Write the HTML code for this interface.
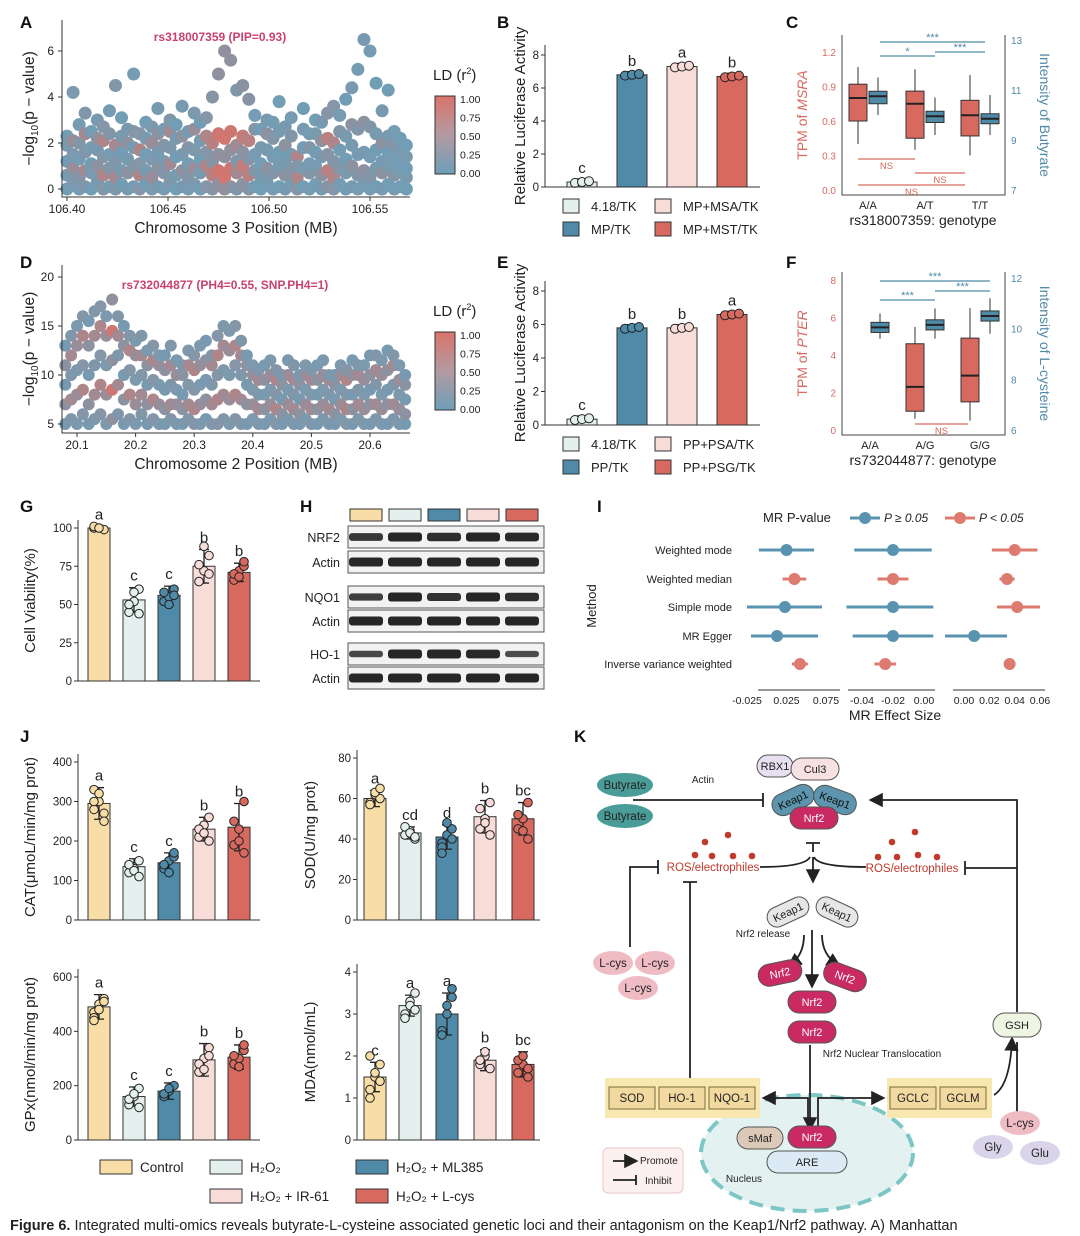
<!DOCTYPE html>
<html><head><meta charset="utf-8"><style>
body{margin:0;background:#fff}
svg{display:block;font-family:"Liberation Sans",Arial,sans-serif}
</style></head><body>
<svg id="fig" width="1080" height="1236" viewBox="0 0 1080 1236" xmlns="http://www.w3.org/2000/svg">
<defs>
<linearGradient id="ldg" x1="0" y1="1" x2="0" y2="0"><stop offset="0" stop-color="#6d9fb8"/><stop offset="0.5" stop-color="#b39aa3"/><stop offset="1" stop-color="#d9736a"/></linearGradient>
<marker id="arr" markerWidth="8" markerHeight="8" refX="6" refY="4" orient="auto"><path d="M0,0 L8,4 L0,8 z" fill="#222"/></marker>
</defs>
<g font-weight="bold" font-size="17" fill="#111">
<text x="20" y="28">A</text>
<text x="497" y="28">B</text>
<text x="786" y="28">C</text>
<text x="20" y="268">D</text>
<text x="497" y="268">E</text>
<text x="786" y="268">F</text>
<text x="20" y="512">G</text>
<text x="300" y="512">H</text>
<text x="597" y="512">I</text>
<text x="20" y="742">J</text>
<text x="574" y="742">K</text>
</g>
<text x="10" y="1230" font-size="14.5" fill="#222"><tspan font-weight="bold">Figure 6.</tspan> Integrated multi-omics reveals butyrate-L-cysteine associated genetic loci and their antagonism on the Keap1/Nrf2 pathway. A) Manhattan</text>
<g id="root"></g>
</svg>
<script>
// ---------- DATA ----------
const valsA = [
[0,0.6,1.2,1.9,2.3],[0.2,0.9,1.5,2.1,4.2],[0,0.5,1.3,2.0,2.8],[0.1,0.8,1.6,2.4,3.3],[0,0.7,1.1,1.8,2.5],
[0.3,1.0,1.7,2.2,3.0],[0,0.6,1.4,2.1,2.7],[0.1,0.9,1.5,2.4,3.4],[0,0.5,1.2,1.9,4.5],[0.2,0.8,1.6,2.3,3.1],
[0,0.7,1.3,2.0,2.6],[0.1,1.0,1.8,2.5,5.0],[0,0.6,1.1,1.7,2.4],[0.2,0.8,1.5,2.2,2.9],[0,0.5,1.3,2.0,2.7],
[0.1,0.9,1.6,2.4,3.5],[0,0.7,1.2,1.9,2.6],[0.3,1.1,1.8,2.5,3.0],[0,0.6,1.4,2.2,2.8],[0.1,0.8,1.5,2.3,3.6],
[0,0.5,1.1,1.8,2.5],[0.2,0.9,1.7,2.6,3.3],[0,0.7,1.3,2.1,2.9],[0.1,1.0,1.6,2.3,3.1],[0,0.6,1.2,2.0,4.0],
[0.2,0.8,1.5,2.4,5.0],[0,0.5,1.4,2.2,6.0],[0.1,0.9,1.7,2.5,5.6],[0,0.7,1.2,1.9,4.3],[0.2,1.0,1.6,2.3,4.5],
[0,0.6,1.3,2.1,3.9],[0.1,0.8,1.5,2.6,3.2],[0,0.5,1.1,1.8,2.6],[0.3,0.9,1.7,2.4,3.0],[0,0.7,1.4,2.2,2.9],
[0.1,1.0,1.6,2.5,3.8],[0,0.6,1.2,1.9,2.7],[0.2,0.8,1.5,2.3,3.1],[0,0.5,1.0,1.4,1.0],[0.1,0.9,1.8,2.6,3.5],
[0,0.7,1.1,1.8,2.4],[0.2,1.0,1.6,2.4,3.0],[0,0.6,1.4,2.1,2.9],[0.1,0.8,1.5,2.2,3.3],[0,0.5,1.2,2.0,3.6],
[0.2,0.9,1.7,2.5,3.2],[0,0.7,1.3,2.3,3.9],[0.1,1.0,1.9,2.8,4.4],[0,0.6,1.5,2.6,5.2],[0.2,0.8,1.6,2.9,6.5],
[0,0.5,1.4,2.7,6.0],[0.1,0.9,1.7,2.4,4.6],[0,0.7,1.2,2.0,3.4],[0.2,1.0,1.6,2.3,4.3],[0,0.6,1.3,1.9,2.5],
[0.1,0.8,1.1,1.7,2.2],[0,0.5,0.9,1.4,1.9]];
const ldA = [.1,.4,.2,.5,.1,.3,.6,.2,.5,.1,.3,.2,.6,.1,.4,.3,.2,.5,.1,.3,.2,.4,.1,.6,.7,.9,.95,.9,.5,.8,.7,.2,.1,.3,.2,.1,.3,.2,.6,.1,.2,.1,.3,.7,.6,.2,.1,.3,.2,.3,.2,.1,.3,.1,.2,.1,.1];
const valsD = [
[5,7,9,11,13],[5.5,7.5,10,12,14],[5,8,10.5,13,15],[6,8.5,11,14,16],[5,7,10,13,15.5],
[5.5,8,11,14,16.5],[6,9,12,15,17],[5,8,11,14,16],[5.5,8.5,11.5,14.5,17.7],[6,9,12,14,16],
[5,7.5,10,13,15],[5.5,8,10.5,12.5,14],[5,7,9.5,12,13.5],[6,8,10,12,14],[5,7,9,11,12.5],
[5.5,7.5,9.5,11.5,13],[5,7,9,11,12],[5,6.5,8.5,10.5,12],[5.5,7,9,11,13],[5,7,8.5,10,11.5],
[5,6.5,8,10,11],[5.5,7,9,11,12.5],[5,6.5,8.5,10.5,12],[5,7,9,11,13],[5.5,7.5,9.5,11.5,13.5],
[5,7,9,11,12],[5,7.5,10,12,14],[5.5,8,10.5,13,15],[5,7.5,10,12.5,14.5],[5.5,8,11,13,15],
[5,7.5,10,12,13.5],[5,7,9,11,12],[5.5,7,8.5,10,11],[5,6.5,8,9.5,10.5],[5,6.5,8,9.5,11],
[5.5,7,8.5,10,11.5],[5,6.5,8,9.5,10.5],[5,6,7.5,9,10],[5.5,7,8.5,10,11.5],[5,6.5,8,9.5,11],
[5,6,7.5,9,10],[5.5,7,8.5,10,11],[5,6.5,8,9.5,10.5],[5,6.5,8,9.5,11],[5.5,7,8.5,10,11.5],
[5,6.5,8,9.5,10],[5,6,7.5,9,10],[5.5,7,8.5,10,11],[5,6.5,8,9.5,10.5],[5,6.5,8,10,11.5],
[5.5,7,8.5,10,11],[5,6.5,8,9.5,11],[5,7,8.5,10,12],[5.5,7,9,10.5,12],[5,6.5,8,10,11.5],
[5,7,8.5,10.5,12.5],[5.5,7,9,11,12],[5,6.5,8,9.5,11],[5,6,7.5,9,10]];
const ldD = [.3,.5,.4,.6,.3,.5,.6,.4,.9,.5,.3,.6,.4,.5,.3,.6,.4,.3,.5,.4,.3,.5,.6,.4,.3,.5,.6,.5,.4,.6,.5,.3,.4,.5,.3,.4,.6,.3,.4,.5,.3,.4,.5,.3,.4,.5,.3,.4,.6,.3,.5,.4,.3,.5,.4,.3,.5,.4,.3];
const lucCats = ['4.18/TK','MP/TK','MP+MSA/TK','MP+MST/TK'];
const lucB = [0.3,6.8,7.3,6.7];
const lucBLetters = ['c','b','a','b'];
const lucE = [0.35,5.8,5.8,6.6];
const lucELetters = ['c','b','b','a'];
const lucECats = ['4.18/TK','PP/TK','PP+PSA/TK','PP+PSG/TK'];
const boxCred = [[0.4,0.6,0.8,0.92,1.07],[0.35,0.45,0.75,0.86,1.05],[0.3,0.47,0.65,0.78,1.0]];
const boxCblue = [[10.0,10.45,10.75,10.95,11.5],[9.2,9.7,9.95,10.15,10.7],[9.2,9.65,9.85,10.05,10.8]];
const boxFred = [null,[0.6,1.0,2.3,4.6,5.5],[0.5,1.5,2.9,4.9,6.5]];
const boxFblue = [[9.6,9.85,10.05,10.25,10.6],[9.6,9.95,10.15,10.35,10.8],[9.8,10.3,10.5,10.7,11.2]];
const genoC = ['A/A','A/T','T/T'];
const genoF = ['A/A','A/G','G/G'];
const grpNames = ['Control','H2O2','H2O2+ML385','H2O2+IR-61','H2O2+L-cys'];
const viab = [100,53,56,75,71];
const viabSD = [1,8,6,11,6];
const viabDots = [[100,100,99,101,100],[45,52,60,50,58,44],[52,55,60,58,50,56],[65,72,82,76,88,70],[66,72,75,70,68,78]];
const viabLetters = ['a','c','c','b','b'];
const catV = [295,135,145,230,235];
const catSD = [40,20,25,30,60];
const catDots = [[330,300,270,280,320,250,300],[120,130,150,140,125,110],[130,150,160,140,120,170],[210,240,260,230,220,200],[190,230,300,250,200,170]];
const catL = ['a','c','c','b','b'];
const sodV = [60,43,41,51,50];
const sodSD = [4,3,6,8,8];
const sodDots = [[58,62,60,57,63,65],[42,44,40,46,43,41],[38,42,45,36,48,40,33],[45,50,58,55,48,42],[45,50,58,52,44,40]];
const sodL = ['a','cd','d','b','bc'];
const gpxV = [490,160,180,295,305];
const gpxSD = [45,35,30,60,45];
const gpxDots = [[470,500,520,450,480,510,440],[130,160,190,150,170,120],[160,180,200,170,190],[250,300,340,280,260,310],[280,300,330,310,270,350]];
const gpxL = ['a','c','c','b','b'];
const mdaV = [1.5,3.2,3.0,1.9,1.8];
const mdaSD = [0.35,0.25,0.5,0.25,0.3];
const mdaDots = [[1.2,1.5,1.8,1.0,1.6,1.4,2.0],[3.0,3.3,3.5,2.9,3.2,3.1],[2.6,3.0,3.4,2.5,3.2,3.6],[1.8,2.0,1.7,1.9,2.1],[1.6,1.8,1.5,1.9,2.0,1.7]];
const mdaL = ['c','a','a','b','bc'];
const methods = ['Weighted mode','Weighted median','Simple mode','MR Egger','Inverse variance weighted'];
const mr1 = [[0.025,-0.01,0.06,0],[0.035,0.02,0.05,1],[0.023,-0.025,0.07,0],[0.013,-0.02,0.065,0],[0.042,0.032,0.052,1]];
const mr2 = [[-0.02,-0.045,0.005,0],[-0.02,-0.03,-0.01,1],[-0.02,-0.05,0.006,0],[-0.02,-0.046,0.006,0],[-0.025,-0.032,-0.018,1]];
const mr3 = [[0.04,0.022,0.058,1],[0.034,0.028,0.04,1],[0.042,0.026,0.06,1],[0.008,-0.015,0.034,0],[0.036,0.033,0.039,1]];
const blotRows = ['NRF2','Actin','NQO1','Actin','HO-1','Actin'];
const blotInt = [[.8,1,.9,1,.95],[1,1,1,1,1],[.7,1,.85,1,.9],[1,1,1,1,1],[.6,1,1,.95,.55],[1,1,1,1,1]];

// ---------- HELPERS ----------
const NS='http://www.w3.org/2000/svg';
const root=document.getElementById('root');
function mk(tag,a,p){const e=document.createElementNS(NS,tag);for(const k in a)e.setAttribute(k,a[k]);(p||root).appendChild(e);return e;}
function tx(x,y,s,a,p){const e=mk('text',Object.assign({x:x,y:y,'font-size':11,fill:'#222'},a||{}),p);e.textContent=s;return e;}
function lin(d0,d1,r0,r1){return v=>r0+(v-d0)*(r1-r0)/(d1-d0);}
function mix(t){const a=[109,159,184],b=[217,115,106];const c=a.map((v,i)=>Math.round(v+(b[i]-v)*t));return `rgb(${c})`;}
const BLUE='#4f8aa8',RED='#d7695e',PINK='#f7dcd8',LIGHT='#e3f0ee',YEL='#f8dea6';
const fills=[YEL,LIGHT,BLUE,PINK,RED];

function yAxis(x,y0,y1,ticks,sy,label,lx){
  const ax=mk('line',{x1:x,x2:x,y1:y0,y2:y1,stroke:'#333'});
  
  
  ticks.forEach(t=>{const y=sy(t);
    const tk=mk('line',{x1:x-4,x2:x,y1:y,y2:y,stroke:'#333'});
    
    
    const l=tx(x-6,y+4,String(t),{'text-anchor':'end','font-size':11.5});
    
    });
  if(label){const t=tx(lx,(y0+y1)/2,label,{'font-size':15,'text-anchor':'middle',transform:`rotate(-90 ${lx} ${(y0+y1)/2})`});
    
    }
}

// ---------- MANHATTAN ----------
function manhattan(vals,lds,x0,step,sx,sy,xAx,yAx,xT,yT,xlab,panel,rad){
  vals.forEach((arr,i)=>{arr.forEach((v,j)=>{
    const c=mk('circle',{cx:sx(x0+i*step),cy:sy(v),r:rad,fill:mix(j%2?lds[i]:lds[i]*0.35)});
    
    });});
  const ax=mk('path',{d:`M${xAx[0]},${yAx[0]} V${yAx[1]} H${xAx[1]}`,fill:'none',stroke:'#333'});
  
  
  yT.forEach(t=>{const y=sy(t);
    const tk=mk('line',{x1:xAx[0]-4,x2:xAx[0],y1:y,y2:y,stroke:'#333'});
    
    
    const l=tx(xAx[0]-8,y+4,String(t),{'text-anchor':'end','font-size':12});
    
    });
  xT.forEach(t=>{const x=sx(t);
    const tk=mk('line',{x1:x,x2:x,y1:yAx[1],y2:yAx[1]+4,stroke:'#333'});
    
    
    const l=tx(x,yAx[1]+16,t.toFixed(2).replace(/^(20\.\d)0$/,'$1'),{'text-anchor':'middle','font-size':12});
    
    });
  const xl=tx((xAx[0]+xAx[1])/2,yAx[1]+36,xlab,{'text-anchor':'middle','font-size':15.5});
  
  
  const yl=mk('text',{x:0,y:0,'font-size':15.5,'text-anchor':'middle',fill:'#222',transform:`translate(34 ${(yAx[0]+yAx[1])/2}) rotate(-90)`});
  yl.innerHTML='−log<tspan font-size="10" dy="4">10</tspan><tspan dy="-4">(p − value)</tspan>';
  
  
}
function ldLegend(x,y){
  const t=mk('text',{x:x,y:y,'font-size':15,fill:'#222'});t.innerHTML='LD (r<tspan font-size="9" dy="-6">2</tspan><tspan dy="6">)</tspan>';
  
  
  const r=mk('rect',{x:x+2,y:y+16,width:20,height:78,fill:'url(#ldg)',stroke:'#333'});
  
  
  ['1.00','0.75','0.50','0.25','0.00'].forEach((s,i)=>{const l=tx(x+27,y+23+i*18.5,s,{'font-size':10.5});
    
    });
}
{const sx=lin(106.40,106.55,67,370),sy=lin(0,6,189,51);
manhattan(valsA,ldA,106.40,0.003,sx,sy,[62,410],[20,197],[106.40,106.45,106.50,106.55],[0,2,4,6],'Chromosome 3 Position (MB)','manhattan-a',6.5);
const an=tx(220,41,'rs318007359 (PIP=0.93)',{'font-size':12,'font-weight':'bold',fill:'#c8426e','text-anchor':'middle'});


ldLegend(433,80);}
{const sx=lin(20.1,20.6,77,370),sy=lin(5,20,424,277);
manhattan(valsD,ldD,20.08,0.01,sx,sy,[62,410],[265,433],[20.1,20.2,20.3,20.4,20.5,20.6],[5,10,15,20],'Chromosome 2 Position (MB)','manhattan-d',6);
const an=tx(225,289,'rs732044877 (PH4=0.55, SNP.PH4=1)',{'font-size':12,'font-weight':'bold',fill:'#c8426e','text-anchor':'middle'});


ldLegend(433,316);}

// ---------- LUCIFERASE ----------
function luc(vals,letters,cats,y0px,y8px,panel){
  const sy=lin(0,8,y0px,y8px),cx=[582,632,682,732],lf=[LIGHT,BLUE,PINK,RED];
  vals.forEach((v,i)=>{
    const b=mk('rect',{x:cx[i]-15,y:sy(v),width:30,height:y0px-sy(v),fill:lf[i],stroke:'#333','stroke-width':1});
    
    
    const e=mk('path',{d:`M${cx[i]-5},${sy(v+0.2)}H${cx[i]+5}M${cx[i]},${sy(v+0.2)}V${sy(v)}`,stroke:'#333',fill:'none'});
    
    
    [-7,0,7].forEach((o,k)=>{const d=mk('circle',{cx:cx[i]+o,cy:sy(v+(k-1)*0.05),r:4.5,fill:lf[i],stroke:'#222'});
      
      });
    const l=tx(cx[i],sy(v)-9,letters[i],{'text-anchor':'middle','font-size':15});
    
    });
  yAxis(545,y0px,y8px-10,[0,2,4,6,8],sy,'Relative Luciferase Activity',525);
  const xa=mk('line',{x1:545,x2:760,y1:y0px,y2:y0px,stroke:'#333'});
  
  
  cats.forEach((c,i)=>{
    const px=i<2?563:655,py=y0px+12+(i%2)*23;
    const s=mk('rect',{x:px,y:py,width:16,height:14,fill:lf[i],stroke:'#333'});
    
    
    const t=tx(px+28,py+12,cats[i],{'font-size':13});
    
    });
}
luc(lucB,lucBLetters,lucCats,187,55,'luciferase-b');
luc(lucE,lucELetters,lucECats,425,291,'luciferase-e');

// ---------- BOXPLOTS ----------
function boxes(red,blue,genos,sL,sR,ticksL,ticksR,y0,y1,gx,ylab,yrlab,xlab,panel){
  const ax=mk('path',{d:`M842,${y1} V${y0} H1005 V${y1}`,fill:'none',stroke:'#444'});
  
  
  ticksL.forEach(t=>{const l=tx(836,sL(t)+4,t,{'text-anchor':'end','font-size':10,fill:'#d7695e'});
    
    });
  ticksR.forEach(t=>{const l=tx(1011,sR(t)+4,t,{'font-size':10,fill:'#4f8aa8'});
    
    });
  function bx(st,x,s,col){
    const w=mk('path',{d:`M${x},${s(st[0])}V${s(st[4])}`,stroke:'#333'});
    
    
    const r=mk('rect',{x:x-9,y:s(st[3]),width:18,height:s(st[1])-s(st[3]),fill:col,stroke:'#333'});
    
    
    const m=mk('line',{x1:x-9,x2:x+9,y1:s(st[2]),y2:s(st[2]),stroke:'#222','stroke-width':2});
    
    }
  genos.forEach((g,i)=>{
    if(red[i])bx(red[i],gx[i]-10,sL,RED);
    bx(blue[i],gx[i]+10,sR,BLUE);
    const l=tx(gx[i],y0+14,g,{'text-anchor':'middle','font-size':11});
    
    });
  const xl=tx(923,y0+30,xlab,{'text-anchor':'middle','font-size':14});
  
  
  const yl=mk('text',{x:0,y:0,'font-size':14,fill:'#d7695e','text-anchor':'middle',transform:`translate(807 ${(y0+y1)/2}) rotate(-90)`});
  yl.innerHTML='TPM of <tspan font-style="italic">'+ylab+'</tspan>';
  
  
  const yr=tx(0,0,yrlab,{'font-size':14,fill:'#4f8aa8','text-anchor':'middle',transform:`translate(1040 ${(y0+y1)/2}) rotate(90)`});
  
  
}
function brk(x1,x2,y,col,lab){
  const l=mk('line',{x1:x1,x2:x2,y1:y,y2:y,stroke:col,'stroke-width':1.3});
  
  
  const t=tx((x1+x2)/2,lab==='NS'?y+10:y-1,lab,{'text-anchor':'middle','font-size':lab==='NS'?9.5:11,fill:col});
  
  }
{const sL=lin(0,1.2,190,52),sR=lin(7,13,190,40);
boxes(boxCred,boxCblue,genoC,sL,sR,['0.0','0.3','0.6','0.9','1.2'],['7','9','11','13'],195,35,[868,925,980],'MSRA','Intensity of Butyrate','rs318007359: genotype','boxplot-c');
brk(880,985,42,'#4f8aa8','***');brk(880,935,56,'#4f8aa8','*');brk(935,985,52,'#4f8aa8','***');
brk(858,915,159,'#d7695e','NS');brk(915,965,173,'#d7695e','NS');brk(858,965,185,'#d7695e','NS');}
{const sL=lin(0,8,430,280),sR=lin(6,12,430,278);
boxes(boxFred,boxFblue,genoF,sL,sR,['0','2','4','6','8'],['6','8','10','12'],435,272,[870,925,980],'PTER','Intensity of L-cysteine','rs732044877: genotype','boxplot-f');
brk(880,990,281,'#4f8aa8','***');brk(880,935,300,'#4f8aa8','***');brk(935,990,291,'#4f8aa8','***');
brk(915,968,424,'#d7695e','NS');}

// ---------- GROUPED BARS ----------
function bars(vals,sds,dots,letters,cx,y0,ymaxPx,ymax,ticks,ylab,lx,axX,axX2,panel,bw){
  const sy=lin(0,ymax,y0,ymaxPx);
  vals.forEach((v,i)=>{
    const b=mk('rect',{x:cx[i]-bw/2,y:sy(v),width:bw,height:y0-sy(v),fill:fills[i],stroke:'#333'});
    
    
    const e=mk('path',{d:`M${cx[i]-5},${sy(v+sds[i])}H${cx[i]+5}M${cx[i]},${sy(v+sds[i])}V${sy(v-sds[i])}M${cx[i]-5},${sy(v-sds[i])}H${cx[i]+5}`,stroke:'#222',fill:'none','stroke-width':1.3});
    
    
    dots[i].forEach((d,k)=>{const c=mk('circle',{cx:cx[i]+((k%3)-1)*5,cy:sy(d),r:4.3,fill:fills[i],stroke:'#222'});
      
      });
    const l=tx(cx[i],sy(v+sds[i])-7,letters[i],{'text-anchor':'middle','font-size':15});
    
    });
  yAxis(axX,y0,ymaxPx-8,ticks,sy,ylab,lx);
  const xa=mk('line',{x1:axX,x2:axX2,y1:y0,y2:y0,stroke:'#333'});
  
  
}
const cxL=[99,134,169,204,239],cxR=[375,410,447,485,523];
bars(viab,viabSD,viabDots,viabLetters,cxL,681,528,100,[0,25,50,75,100],'Cell Viability(%)',35,78,260,'viability-g',22);
bars(catV,catSD,catDots,catL,cxL,920,762,400,[0,100,200,300,400],'CAT(μmoL/min/mg prot)',35,78,260,'cat-j',22);
bars(sodV,sodSD,sodDots,sodL,cxR,920,758,80,[0,20,40,60,80],'SOD(U/mg prot)',315,357,540,'sod-j',22);
bars(gpxV,gpxSD,gpxDots,gpxL,cxL,1140,977,600,[0,200,400,600],'GPx(nmol/min/mg prot)',35,78,260,'gpx-j',22);
bars(mdaV,mdaSD,mdaDots,mdaL,cxR,1140,972,4,[0,1,2,3,4],'MDA(nmol/mL)',315,357,540,'mda-j',22);
[[100,1168,'Control'],[210,1168,'H₂O₂'],[356,1168,'H₂O₂ + ML385'],[210,1197,'H₂O₂ + IR-61'],[356,1197,'H₂O₂ + L-cys']].forEach((e,i)=>{
  const s=mk('rect',{x:e[0],y:e[1]-8,width:32,height:14,fill:fills[i],stroke:'#333'});
  
  
  const t=tx(e[0]+40,e[1]+4,e[2],{'font-size':13.5});
  
  });

// ---------- WESTERN BLOT ----------
{const lanes=[366,405,444,483,522];
lanes.forEach((x,i)=>{const s=mk('rect',{x:x-16,y:509,width:32,height:12,fill:fills[i],stroke:'#333'});
  
  });
const rowY=[537,562,597,621,654,678];
blotRows.forEach((n,r)=>{
  const bg=mk('rect',{x:348,y:rowY[r]-11,width:196,height:22,fill:'#f2f2f2',stroke:'#555'});
  
  
  const l=tx(340,rowY[r]+5,n,{'text-anchor':'end','font-size':12.5});
  
  
  blotInt[r].forEach((v,i)=>{const b=mk('rect',{x:lanes[i]-17,y:rowY[r]-3*v-1.5,width:34,height:6*v+3,rx:3,fill:'#1a1a1a','fill-opacity':0.55+0.4*v});
    
    });});}

// ---------- FOREST PLOT ----------
{const rowsY=[550,579,607,636,664];
const panels=[[mr1,lin(-0.025,0.075,747,826),[-0.025,0.025,0.075],['-0.025','0.025','0.075'],758,840],
              [mr2,lin(-0.04,0.0,862,924),[-0.04,-0.02,0.0],['-0.04','-0.02','0.00'],848,935],
              [mr3,lin(0,0.06,964,1040),[0,0.02,0.04,0.06],['0.00','0.02','0.04','0.06'],953,1045]];
panels.forEach((p,pi)=>{
  const ax=mk('line',{x1:p[4],x2:p[5],y1:690,y2:690,stroke:'#333'});
  
  
  p[2].forEach((t,k)=>{const l=tx(p[1](t),704,p[3][k],{'text-anchor':'middle','font-size':10.5});
    
    });
  p[0].forEach((d,r)=>{const col=d[3]?'#de7b70':'#5a93b0';
    const ci=mk('line',{x1:p[1](d[1]),x2:p[1](d[2]),y1:rowsY[r],y2:rowsY[r],stroke:col,'stroke-width':3});
    
    
    const pt=mk('circle',{cx:p[1](d[0]),cy:rowsY[r],r:6,fill:col});
    
    });});
methods.forEach((m,r)=>{const l=tx(732,rowsY[r]+4,m,{'text-anchor':'end','font-size':11});
  
  });
const yt=tx(0,0,'Method',{'font-size':13,'text-anchor':'middle',transform:'translate(596 606) rotate(-90)'});


const xt=tx(895,720,'MR Effect Size',{'font-size':14,'text-anchor':'middle'});


const lt=tx(763,522,'MR P-value',{'font-size':13});


[[850,'#5a93b0','P ≥ 0.05'],[945,'#de7b70','P < 0.05']].forEach(e=>{
  const l=mk('line',{x1:e[0],x2:e[0]+30,y1:518,y2:518,stroke:e[1],'stroke-width':3});
  
  
  const c=mk('circle',{cx:e[0]+15,cy:518,r:6,fill:e[1]});
  
  
  const t=tx(e[0]+34,522,e[2],{'font-size':12,'font-style':'italic'});
  
  });}

// ---------- PATHWAY K ----------
{
function pill(cx,cy,w,h,fill,label,col,rot,name,stroke){
  const g=mk('g',{transform:`rotate(${rot||0} ${cx} ${cy})`});
  
  
  mk('rect',{x:cx-w/2,y:cy-h/2,width:w,height:h,rx:h/2,fill:fill,stroke:stroke||'#555','stroke-width':1},g);
  tx(cx,cy+4,label,{'text-anchor':'middle','font-size':11,fill:col||'#222'},g);}
function line(d,name,marker){const p=mk('path',{d:d,fill:'none',stroke:'#222','stroke-width':1.8});
  if(marker)p.setAttribute('marker-end','url(#arr)');
  
  }
const nuc=mk('ellipse',{cx:807,cy:1153,rx:106,ry:58,fill:'#e4f1f1',stroke:'#7cc6c6','stroke-width':4,'stroke-dasharray':'14 8'});


[[605,1078,155,40],[887,1078,105,40]].forEach(b=>{const r=mk('rect',{x:b[0],y:b[1],width:b[2],height:b[3],fill:'#f8e8b0'});
  
  });
[['SOD',632],['HO-1',682],['NQO-1',732],['GCLC',913],['GCLM',963]].forEach(g=>{
  const r=mk('rect',{x:g[1]-23,y:1087,width:46,height:22,fill:'#f1d9a0',stroke:'#7a6a3a'});
  
  
  const t=tx(g[1],1102,g[0],{'text-anchor':'middle','font-size':11.5});
  
  });
line('M633,800 H763 M763,793 V807','butyrate-inhibit');
line('M1017,1012 V800 H872','gsh-promote',true);
line('M1017,868 H965 M965,861 V875','gsh-inhibit-ros');
line('M760,867 Q805,867 810,857 M866,867 Q818,867 814,857','ros-merge');
line('M813,852 V843 M806,843 H820','ros-inhibit-keap1');
line('M813,857 V880','release-arrow',true);
line('M630,947 V867 H658 M658,860 V874','lcys-inhibit');
line('M690,1078 V882 M683,882 H697','enzymes-inhibit');
line('M804,935 Q804,955 790,965','arrow-left',true);
line('M812,930 V985','arrow-mid',true);
line('M822,935 Q822,955 838,965','arrow-right',true);
line('M810,1045 V1128','translocation-arrow',true);
line('M808,1128 V1098 H765','to-left-genes',true);
line('M818,1128 V1098 H882','to-right-genes',true);
line('M994,1095 Q1010,1085 1012,1040','gclm-to-gsh',true);
line('M1017,1112 V1042','lcys-to-gsh');
pill(775,766,36,22,'#e6e0f0','RBX1','#222',0,'rbx1');
pill(815,769,48,22,'#f8e1e1','Cul3','#222',0,'cul3');
pill(793,800,44,22,'#5c95ad','Keap1','#111',-25,'keap1-left');
pill(835,800,44,22,'#5c95ad','Keap1','#111',20,'keap1-right');
pill(814,818,48,22,'#c92a62','Nrf2','#fff',0,'nrf2-bound');
pill(788,912,44,20,'#e6e6e6','Keap1','#222',-25,'keap1-free-left');
pill(837,912,44,20,'#e6e6e6','Keap1','#222',25,'keap1-free-right');
pill(780,973,44,22,'#c92a62','Nrf2','#fff',-12,'nrf2-released-1');
pill(845,977,44,22,'#c92a62','Nrf2','#fff',20,'nrf2-released-2');
pill(812,1002,48,22,'#c92a62','Nrf2','#fff',0,'nrf2-released-3');
pill(812,1032,48,22,'#c92a62','Nrf2','#fff',0,'nrf2-released-4');
pill(760,1138,46,22,'#dcc9b8','sMaf','#222',0,'smaf');
pill(812,1137,48,22,'#c92a62','Nrf2','#fff',0,'nrf2-nuclear');
pill(807,1162,80,22,'#dbeaf4','ARE','#222',0,'are');
pill(1017,1025,48,24,'#eef5e2','GSH','#222',0,'gsh');
[[625,785,'Butyrate','#4a9c98'],[625,816,'Butyrate','#4a9c98'],[613,963,'L-cys','#f0bcc4'],[655,963,'L-cys','#f0bcc4'],[638,988,'L-cys','#f0bcc4'],[1020,1123,'L-cys','#f0bcc4'],[993,1147,'Gly','#d9d4ea'],[1040,1153,'Glu','#d9d4ea']].forEach(c=>{
  const e=mk('ellipse',{cx:c[0],cy:c[1],rx:c[2].length>5?28:20,ry:12,fill:c[3]});
  
  
  const t=tx(c[0],c[1]+4,c[2],{'text-anchor':'middle','font-size':11.5});
  
  });
[[705,842],[728,835],[695,855],[712,856],[733,856],[752,856],[892,842],[915,832],[878,857],[897,857],[918,855],[937,857]].forEach(d=>{
  const c=mk('circle',{cx:d[0],cy:d[1],r:3.3,fill:'#c0392b'});
  
  });
[[713,871,'ROS/electrophiles'],[912,872,'ROS/electrophiles']].forEach(r=>{const t=tx(r[0],r[1],r[2],{'text-anchor':'middle','font-size':11.5,fill:'#c0392b'});
  
  });
[[703,783,'Actin',10],[763,937,'Nrf2 release',10],[882,1057,'Nrf2 Nuclear Translocation',10],[744,1182,'Nucleus',10]].forEach(r=>{const t=tx(r[0],r[1],r[2],{'text-anchor':'middle','font-size':r[3]});
  
  });
const lg=mk('rect',{x:603,y:1148,width:80,height:45,rx:5,fill:'#fdf0f0',stroke:'#e6c8c8'});


line('M613,1161 H635','legend-promote-line',true);
line('M613,1180 H636 M636,1175 V1185','legend-inhibit-line');
[[640,1164,'Promote'],[645,1184,'Inhibit']].forEach(r=>{const t=tx(r[0],r[1],r[2],{'font-size':10});
  
  });
}
</script>
</body></html>
